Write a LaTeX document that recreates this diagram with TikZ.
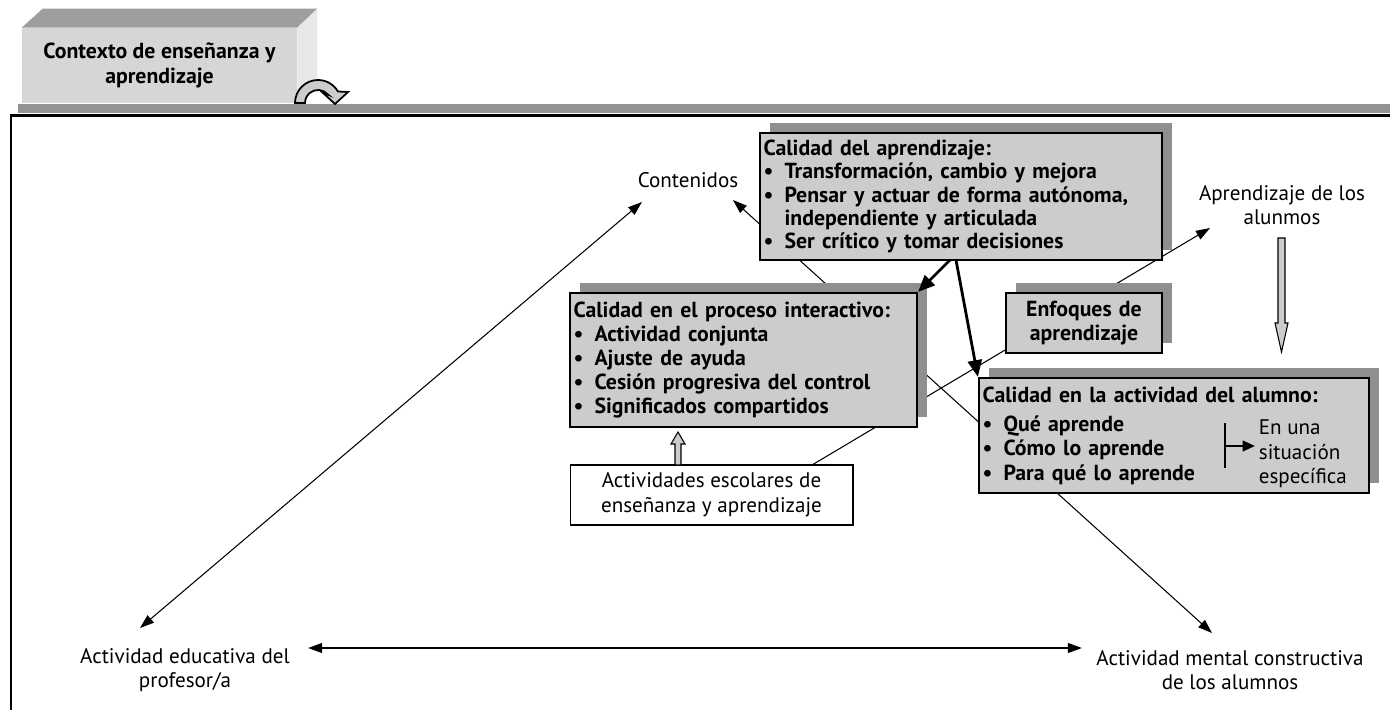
\documentclass[tikz,border=0pt]{standalone}
\usepackage{fontspec}
\setmainfont{PT Sans}
\usetikzlibrary{arrows.meta,shadows,backgrounds}
\definecolor{boxgray}{gray}{0.80}
\definecolor{shadegray}{gray}{0.56}
\definecolor{bargray}{gray}{0.58}
\definecolor{topgray}{gray}{0.62}
\definecolor{frontgray}{gray}{0.84}
\definecolor{sidegray}{gray}{0.91}
\newcommand{\bpt}{\makebox[0.42cm][l]{\textbullet}}
\newcommand{\bgap}{\hspace*{0.42cm}}

\begin{document}
\begin{tikzpicture}[x=0.02cm, y=-0.02cm,
    box/.style={draw, line width=1.3pt, fill=boxgray, inner sep=2pt, align=left,
      font=\fontsize{12.4}{13.2}\selectfont\bfseries,
      drop shadow={shadow xshift=0.2cm, shadow yshift=0.2cm, fill=shadegray, opacity=1}},
    lbl/.style={align=center, inner sep=2pt, font=\fontsize{12}{14}\selectfont},
    conn/.style={line width=0.6pt, {Triangle[length=8pt,width=5.5pt]}-{Triangle[length=8pt,width=5.5pt]}},
    strong/.style={line width=1.6pt, -{Triangle[length=9.5pt,width=8pt]}},
    blockarr/.style={draw, line width=0.6pt, fill=boxgray}]
  \useasboundingbox (0,0) rectangle (1390,710);

  % frame
  \fill[bargray] (18,104) rectangle (1392,113);
  \draw[line width=1.5pt] (1392,115.5) -- (11,115.5) -- (11,712);

  % contexto box
  \node[lbl, font=\fontsize{12.4}{14}\selectfont\bfseries, fill=frontgray,
    minimum width=5.5cm, minimum height=1.5cm] (ctx) at (159.5,65.5) {Contexto de enseñanza y\\aprendizaje};
  \fill[topgray] (ctx.north west) -- ++(21,-19) -- ([shift={(20,-19)}]ctx.north east) -- (ctx.north east) -- cycle;
  \fill[sidegray] (ctx.north east) -- ++(20,-19) -- ([shift={(20,-20)}]ctx.south east) -- (ctx.south east) -- cycle;
  \draw[blockarr, line width=1pt] (295,103) arc[start angle=180, end angle=330, radius=23] -- (348,92) -- (335,104)
    -- (322,92) -- (328,94.6) arc[start angle=320, end angle=180, radius=13] -- cycle;

  % labels
  \node[lbl] (contenidos) at (688,180) {Contenidos};
  \node[lbl] (aprendAlum) at (1282,205) {Aprendizaje de los\\alunmos};
  \node[lbl] (profesor) at (185,670) {Actividad educativa del\\profesor/a};
  \node[lbl] (mental) at (1230,670) {Actividad mental constructiva\\de los alumnos};

  % boxes
  \node[box, text width=7.9cm, minimum height=2.54cm] (calAprend) at (961,196.5)
    {Calidad del aprendizaje:\\ \bpt Transformación, cambio y mejora\\ \bpt Pensar y actuar de forma autónoma,\\
     \bgap independiente y articulada\\ \bpt Ser crítico y tomar decisiones};
  \node[box, text width=6.8cm, minimum height=2.68cm, font=\fontsize{12.4}{13.6}\selectfont\bfseries] (calInter) at (743.5,360)
    {Calidad en el proceso interactivo:\\ \bpt Actividad conjunta\\ \bpt Ajuste de ayuda\\
     \bpt Cesión progresiva del control\\ \bpt Significados compartidos};
  \node[box, align=center, text width=2.98cm, minimum height=1.2cm] (enfoques) at (1084,323) {Enfoques de\\aprendizaje};
  \node[box, text width=7.66cm, minimum height=2.3cm, font=\fontsize{12.4}{13.8}\selectfont\bfseries] (calActiv) at (1174,435.5)
    {Calidad en la actividad del alumno:\\[3pt] \bpt Qué aprende\\ \bpt Cómo lo aprende\\ \bpt Para qué lo aprende};
  \node[lbl, align=left, anchor=west, font=\fontsize{12}{14}\selectfont] (situacion) at (1255,454) {En una\\situación\\específica};
  \node[lbl, draw, line width=0.6pt, fill=white, minimum width=5.66cm, minimum height=1.2cm] (actividades) at (711.5,495)
    {Actividades escolares de\\enseñanza y aprendizaje};

  \coordinate (barTop) at (1225,423);
  \coordinate (barBot) at (1225,468);
  \coordinate (barMid) at (1225,446);
  \draw[line width=1.3pt] (barTop) -- (barBot);
  \draw[line width=1.3pt, -{Triangle[length=7pt,width=6pt]}] (barMid) -- (situacion.west |- barMid);

  % hollow arrows
  \draw[blockarr] ([shift={(-0.5,33)}]aprendAlum.center) ++(-3.5,0) -- ++(7,0) -- ++(0,85) -- ++(3,0)
    -- ++(-6.5,29) -- ++(-6.5,-29) -- ++(3,0) -- cycle;
  \draw[blockarr] ([shift={(-33.5,-30)}]actividades.center) ++(-3,0) -- ++(0,-21) -- ++(-4,0) -- ++(7,-12)
    -- ++(7,12) -- ++(-4,0) -- ++(0,21) -- cycle;

  % connectors
  \begin{scope}[on background layer]
    \draw[conn] ([shift={(-46,22)}]contenidos.center) -- ([shift={(-45,-42)}]profesor.center);
    \draw[conn] ([shift={(45,20)}]contenidos.center) -- ([shift={(-18,-37)}]mental.center);
    \draw[conn, line width=1.1pt] ([shift={(123,-22)}]profesor.center) -- ([shift={(-148,-22)}]mental.center);
    \draw[line width=0.6pt, -{Triangle[length=8pt,width=5.5pt]}] ([shift={(100.5,-30)}]actividades.center)
      -- ([shift={(-72,23)}]aprendAlum.center);
  \end{scope}
  \draw[strong] ([shift={(-11,63.5)}]calAprend.center) -- (calInter.north east);
  \draw[strong] ([shift={(-5,63.5)}]calAprend.center) -- (calActiv.north west);
\end{tikzpicture}
\end{document}
